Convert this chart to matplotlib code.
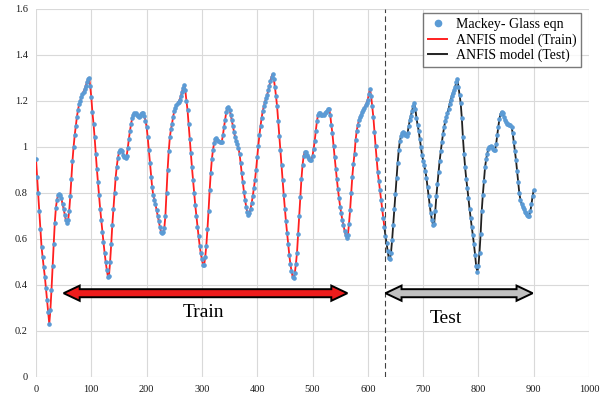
import matplotlib
matplotlib.use("Agg")
import matplotlib.pyplot as plt
from matplotlib.patches import Polygon
from matplotlib.lines import Line2D

plt.rcParams['font.family'] = ['Liberation Serif', 'DejaVu Serif']

# ---- data (sample time, series value) ----
t = list(range(0, 901, 2))
mg = [
    0.945, 0.87, 0.80, 0.72, 0.64, 0.565, 0.52, 0.475, 0.435, 0.385,          # 0-18
    0.335, 0.28, 0.23, 0.29, 0.377, 0.48, 0.575, 0.67, 0.735, 0.77,           # 20-38
    0.79, 0.795, 0.79, 0.775, 0.75, 0.73, 0.705, 0.68, 0.67, 0.68,            # 40-58
    0.72, 0.785, 0.86, 0.94, 1.0, 1.05, 1.09, 1.13, 1.16, 1.185,              # 60-78
    1.20, 1.215, 1.23, 1.24, 1.25, 1.265, 1.28, 1.295, 1.30, 1.265,           # 80-98
    1.215, 1.15, 1.10, 1.04, 0.97, 0.905, 0.845, 0.79, 0.73, 0.68,            # 100-118
    0.63, 0.585, 0.54, 0.50, 0.465, 0.435, 0.44, 0.50, 0.575, 0.66,           # 120-138
    0.73, 0.80, 0.865, 0.913, 0.95, 0.975, 0.985, 0.986, 0.98, 0.965,         # 140-158
    0.955, 0.95, 0.96, 0.995, 1.035, 1.07, 1.10, 1.125, 1.14, 1.145,          # 160-178
    1.145, 1.14, 1.132, 1.13, 1.135, 1.143, 1.148, 1.148, 1.135, 1.11,        # 180-198
    1.087, 1.04, 0.985, 0.93, 0.87, 0.825, 0.79, 0.77, 0.75, 0.725,           # 200-218
    0.70, 0.675, 0.652, 0.63, 0.623, 0.63, 0.645, 0.70, 0.797, 0.90,          # 220-238
    0.98, 1.04, 1.075, 1.10, 1.13, 1.155, 1.17, 1.18, 1.188, 1.196,           # 240-258
    1.205, 1.22, 1.24, 1.255, 1.268, 1.245, 1.20, 1.16, 1.10, 1.035,          # 260-278
    0.971, 0.91, 0.855, 0.80, 0.745, 0.70, 0.652, 0.61, 0.57, 0.536,          # 280-298
    0.51, 0.485, 0.485, 0.52, 0.57, 0.64, 0.72, 0.81, 0.885, 0.945,           # 300-318
    0.985, 1.015, 1.032, 1.036, 1.03, 1.025, 1.02, 1.02, 1.022, 1.05,         # 320-338
    1.085, 1.116, 1.15, 1.17, 1.174, 1.16, 1.14, 1.116, 1.09, 1.065,          # 340-358
    1.043, 1.025, 1.01, 0.995, 0.97, 0.93, 0.885, 0.845, 0.805, 0.77,         # 360-378
    0.74, 0.715, 0.703, 0.71, 0.73, 0.755, 0.785, 0.82, 0.855, 0.90,          # 380-398
    0.955, 1.005, 1.05, 1.09, 1.125, 1.155, 1.175, 1.195, 1.21, 1.225,        # 400-418
    1.245, 1.265, 1.285, 1.305, 1.316, 1.295, 1.26, 1.22, 1.175, 1.11,        # 420-438
    1.045, 0.985, 0.92, 0.855, 0.79, 0.73, 0.675, 0.625, 0.575, 0.53,         # 440-458
    0.49, 0.46, 0.435, 0.43, 0.45, 0.49, 0.54, 0.62, 0.70, 0.78,              # 460-478
    0.86, 0.92, 0.96, 0.978, 0.975, 0.965, 0.955, 0.945, 0.942, 0.942,        # 480-498
    0.96, 0.99, 1.025, 1.07, 1.11, 1.14, 1.145, 1.145, 1.14, 1.138,           # 500-518
    1.14, 1.145, 1.15, 1.155, 1.162, 1.164, 1.14, 1.095, 1.058, 1.005,        # 520-538
    0.955, 0.905, 0.86, 0.815, 0.775, 0.74, 0.71, 0.68, 0.66, 0.635,          # 540-558
    0.615, 0.603, 0.615, 0.665, 0.725, 0.80, 0.87, 0.925, 0.97, 1.03,         # 560-578
    1.07, 1.095, 1.115, 1.13, 1.14, 1.15, 1.16, 1.17, 1.18, 1.19,             # 580-598
    1.205, 1.23, 1.25, 1.22, 1.175, 1.13, 1.065, 1.005, 0.945, 0.89,          # 600-618
    0.85, 0.81, 0.77, 0.73, 0.69, 0.65, 0.61, 0.58, 0.545, 0.515,             # 620-638
    0.51, 0.54, 0.595, 0.66, 0.73, 0.795, 0.865, 0.93, 0.985, 1.025,          # 640-658
    1.045, 1.058, 1.065, 1.06, 1.05, 1.048, 1.06, 1.09, 1.115, 1.135,         # 660-678
    1.155, 1.175, 1.189, 1.165, 1.125, 1.095, 1.07, 1.035, 1.0, 0.965,        # 680-698
    0.94, 0.92, 0.895, 0.865, 0.825, 0.785, 0.745, 0.71, 0.68, 0.66,          # 700-718
    0.665, 0.72, 0.785, 0.84, 0.89, 0.94, 0.98, 1.02, 1.055, 1.085,           # 720-738
    1.11, 1.13, 1.145, 1.165, 1.185, 1.203, 1.22, 1.235, 1.246, 1.26,         # 740-758
    1.28, 1.293, 1.26, 1.225, 1.189, 1.125, 1.04, 0.97, 0.91, 0.86,           # 760-778
    0.82, 0.775, 0.73, 0.69, 0.65, 0.615, 0.575, 0.53, 0.48, 0.457,           # 780-798
    0.48, 0.54, 0.62, 0.72, 0.79, 0.85, 0.91, 0.945, 0.97, 0.99,              # 800-818
    1.0, 1.003, 0.998, 0.99, 0.986, 0.986, 1.01, 1.05, 1.087, 1.12,           # 820-838
    1.143, 1.152, 1.145, 1.13, 1.118, 1.109, 1.10, 1.097, 1.095, 1.094,       # 840-858
    1.085, 1.06, 1.02, 0.98, 0.942, 0.895, 0.845, 0.797, 0.77, 0.752,         # 860-878
    0.739, 0.728, 0.718, 0.71, 0.703, 0.699, 0.70, 0.72, 0.75, 0.785,         # 880-898
    0.81,                                                                     # 900
]
split_t = 630          # end of training part
boundary_t = 632       # dashed separator
train_arrow = (50, 563)
test_arrow = (632, 898)
arrow_y = 0.363
x_ticks = list(range(0, 1001, 100))
y_ticks = [0, 0.2, 0.4, 0.6, 0.8, 1, 1.2, 1.4, 1.6]
y_ticklabels = ['0', '0.2', '0.4', '0.6', '0.8', '1', '1.2', '1.4', '1.6']

n = min(len(t), len(mg))
t = t[:n]
mg = mg[:n]

# ---- figure ----
fig = plt.figure(figsize=(6.13, 4.0), dpi=100)
ax = fig.add_axes([36/613, 1-376.7/400, 553/613, 368/400])
ax.set_xlim(0, 1000)
ax.set_ylim(0, 1.6)
ax.set_xticks(x_ticks)
ax.set_yticks(y_ticks)
ax.set_yticklabels(y_ticklabels)
ax.tick_params(length=0, labelsize=7.5, pad=6, colors='#1a1a1a')
for s in ax.spines.values():
    s.set_visible(False)
ax.grid(True, color='#d9d9d9', linewidth=0.8)
ax.set_axisbelow(True)

i_split = t.index(split_t)
ax.plot(t[:i_split + 1], mg[:i_split + 1], color='#ff2020', lw=1.3, zorder=2)
ax.plot(t[i_split:], mg[i_split:], color='#222222', lw=1.3, zorder=2)
ax.plot(t, mg, linestyle='none', marker='o', markersize=2.3,
        color='#5b9bd5', mec='#5b9bd5', zorder=3)

ax.axvline(boundary_t, color='#404040', lw=0.8, dashes=(5, 3), zorder=4)

# ---- double-headed block arrows ----
def block_arrow(x0, x1, y, face):
    body = 0.0175
    head = 0.033
    hl = 29
    verts = [(x0, y), (x0 + hl, y + head), (x0 + hl, y + body),
             (x1 - hl, y + body), (x1 - hl, y + head), (x1, y),
             (x1 - hl, y - head), (x1 - hl, y - body),
             (x0 + hl, y - body), (x0 + hl, y - head)]
    ax.add_patch(Polygon(verts, closed=True, facecolor=face,
                         edgecolor='black', lw=1.4, zorder=5,
                         joinstyle='miter'))

block_arrow(train_arrow[0], train_arrow[1], arrow_y, '#ee1c1c')
block_arrow(test_arrow[0], test_arrow[1], arrow_y, '#c0c0c0')

ax.text(303, 0.28, 'Train', fontsize=14, ha='center', va='center', zorder=6)
ax.text(742, 0.255, 'Test', fontsize=14, ha='center', va='center', zorder=6)

handles = [
    Line2D([], [], linestyle='none', marker='o', markersize=4.5,
           color='#5b9bd5'),
    Line2D([], [], color='#ff2020', lw=1.4),
    Line2D([], [], color='#222222', lw=1.4),
]
labels = ['Mackey- Glass eqn', 'ANFIS model (Train)', 'ANFIS model (Test)']
leg = ax.legend(handles, labels, loc='upper right',
                bbox_to_anchor=(0.986, 0.988), borderaxespad=0,
                fontsize=10, frameon=True, fancybox=False,
                handlelength=1.4, handletextpad=0.6, labelspacing=0.15,
                borderpad=0.35)
leg.get_frame().set_edgecolor('#595959')
leg.get_frame().set_linewidth(1.0)
leg.set_zorder(7)

fig.savefig('out.png', dpi=100)
